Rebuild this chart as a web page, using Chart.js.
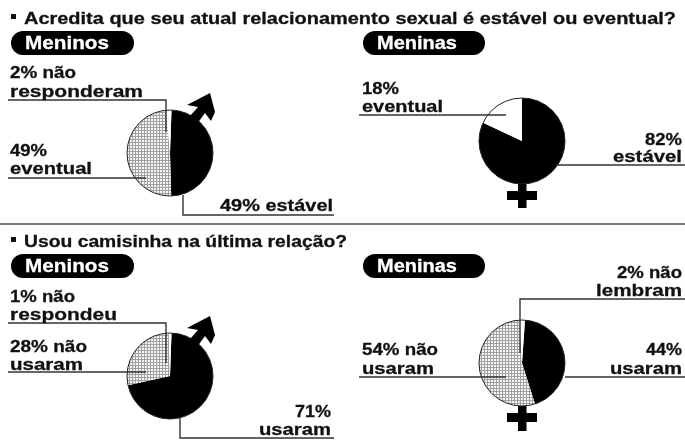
<!DOCTYPE html>
<html lang="pt">
<head>
<meta charset="utf-8">
<style>
html,body{margin:0;padding:0;background:#fff;width:685px;height:441px;overflow:hidden}
#stage{position:relative;width:685px;height:441px;filter:blur(.7px)}
canvas{position:absolute}
svg{position:absolute;left:0;top:0}
text{font-family:"Liberation Sans",Arial,sans-serif;font-weight:bold;fill:#111;stroke:#111;stroke-width:.3px;font-size:17px}
.title{font-size:17px}
.pilltext{fill:#fff;stroke:#fff;font-size:18px}
</style>
<script src="https://cdn.jsdelivr.net/npm/chart.js@4/dist/chart.umd.min.js"></script>
</head>
<body>
<div id="stage">
<canvas id="c0" width="100" height="100" style="left:120px;top:103px"></canvas>
<canvas id="c1" width="100" height="100" style="left:472px;top:91px"></canvas>
<canvas id="c2" width="100" height="100" style="left:120px;top:326px"></canvas>
<canvas id="c3" width="100" height="100" style="left:472px;top:313px"></canvas>
<svg id="ov" width="685" height="441" xmlns="http://www.w3.org/2000/svg"></svg>
</div>
<script>
// Data
const meninosEstavelLabels = ["estável", "eventual", "não responderam"];
const meninosEstavelValues = [49, 49, 2];
const meninasEstavelLabels = ["estável", "eventual"];
const meninasEstavelValues = [82, 18];
const meninosCamisinhaLabels = ["usaram", "não usaram", "não respondeu"];
const meninosCamisinhaValues = [71, 28, 1];
const meninasCamisinhaLabels = ["usaram", "não usaram", "não lembram"];
const meninasCamisinhaValues = [44, 54, 2];

// Rendering
function hatch(){
  const p=document.createElement('canvas');p.width=3;p.height=3;
  const x=p.getContext('2d');
  x.fillStyle='#f6f6f6';x.fillRect(0,0,3,3);
  x.fillStyle='#a0a0a0';x.fillRect(0,0,3,1);x.fillRect(0,0,1,3);
  return x.createPattern(p,'repeat');
}
const BLACK='#000',WHITE='#fff';
const outline={id:'outline',afterDatasetsDraw(chart){
  const a=chart.getDatasetMeta(0).data[0],c=chart.ctx;
  c.save();c.beginPath();c.arc(a.x,a.y,a.outerRadius,0,Math.PI*2);
  c.lineWidth=1;c.strokeStyle='#222';c.stroke();c.restore();
}};
function pie(id,labels,values,colors,rotation){
  new Chart(document.getElementById(id),{
    type:'pie',
    data:{labels,datasets:[{data:values,backgroundColor:colors,borderWidth:0}]},
    options:{responsive:false,animation:false,rotation,radius:43,
      layout:{padding:0},events:[],
      plugins:{legend:{display:false},tooltip:{enabled:false}}},
    plugins:[outline]
  });
}
const H=hatch();
pie('c0',meninosEstavelLabels,meninosEstavelValues,[BLACK,H,WHITE],2);
pie('c1',meninasEstavelLabels,meninasEstavelValues,[BLACK,WHITE],0);
pie('c2',meninosCamisinhaLabels,meninosCamisinhaValues,[BLACK,H,WHITE],2);
pie('c3',meninasCamisinhaLabels,meninasCamisinhaValues,[BLACK,H,WHITE],4);

const NS='http://www.w3.org/2000/svg',ov=document.getElementById('ov');
function el(n,a,t){const e=document.createElementNS(NS,n);for(const k in a)e.setAttribute(k,a[k]);if(t)e.textContent=t;ov.appendChild(e);return e}
function line(pts,w,c){el('polyline',{points:pts,fill:'none',stroke:c||'#333','stroke-width':w||1.4})}
function txt(s,x,y,w,anchor){const a={x,y,textLength:w,lengthAdjust:'spacingAndGlyphs'};if(anchor)a['text-anchor']=anchor;el('text',a,s)}
function pill(x,y,w,h,s){el('rect',{x,y,width:w,height:h,rx:h/2,ry:h/2,fill:'#000'});el('text',{x:x+14,y:y+h-6,class:'pilltext',textLength:s==='Meninos'?84:80,lengthAdjust:'spacingAndGlyphs'},s)}

// Titles and separators
el('rect',{x:11,y:14,width:5,height:5,fill:'#111'});
el('text',{x:24,y:24,class:'title',textLength:652,lengthAdjust:'spacingAndGlyphs'},'Acredita que seu atual relacionamento sexual é estável ou eventual?');
line('0,224 685,224',2,'#777');
el('rect',{x:11,y:237,width:5,height:5,fill:'#111'});
el('text',{x:24,y:247,class:'title',textLength:323,lengthAdjust:'spacingAndGlyphs'},'Usou camisinha na última relação?');
pill(11,31,123,24,'Meninos');
pill(363,31,122,24,'Meninas');
pill(11,254,123,24,'Meninos');
pill(363,254,122,24,'Meninas');

// Leader lines
line('8,100 166,100 166,132');
line('8,178 146,178');
line('183,195 183,215 334,215');
line('359,115 506,115');
line('556,165 685,165');
line('8,323 166,323 166,363');
line('8,372 146,372');
line('180,418 180,438 334,438');
line('520,353 520,299 685,299');
line('359,377 506,377');
line('565,377 685,377');

// Gender symbols
const male=[[210,93],[215,112],[211,121],[205,113],[197,124],[190,116],[198,107],[187,105]];
[0,223].forEach(d=>el('polygon',{points:male.map(p=>p[0]+','+(p[1]+d)).join(' '),fill:'#000'}));
[[184,191],[406,413]].forEach(([a,b])=>{
  el('rect',{x:518,y:a,width:8.5,height:a===184?24:25,fill:'#000'});
  el('rect',{x:507,y:b,width:30,height:9,fill:'#000'});
});

// Labels
txt('2% não',10,78,66);
txt('responderam',10,97,133);
txt('49%',10,156,37);
txt('eventual',10,174,82);
txt('49% estável',220,211,113);
txt('18%',362,94,37);
txt('eventual',362,112,81);
txt('82%',682,145,37,'end');
txt('estável',682,162,69,'end');
txt('1% não',10,302,65);
txt('respondeu',10,320,107);
txt('28% não',10,352,77);
txt('usaram',10,370,73);
txt('71%',331,417,36,'end');
txt('usaram',331,435,72,'end');
txt('2% não',682,278,65,'end');
txt('lembram',682,296,86,'end');
txt('54% não',362,355,76);
txt('usaram',362,374,72);
txt('44%',682,355,36,'end');
txt('usaram',682,374,72,'end');
</script>
</body>
</html>
